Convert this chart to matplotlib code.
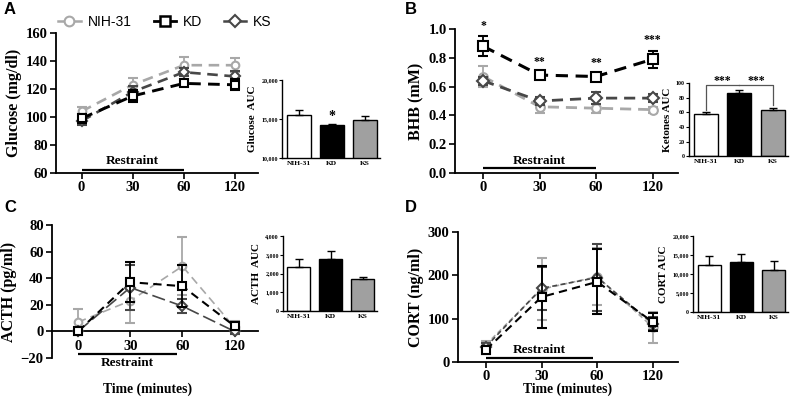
import matplotlib
matplotlib.use("Agg")
import matplotlib.pyplot as plt
from matplotlib.lines import Line2D

# ---------------- data ----------------
time_labels = ["0", "30", "60", "120"]
groups = ["NIH-31", "KD", "KS"]

glucose_nih = [104, 123, 137, 137]
glucose_nih_err = [3, 5, 6, 5]
glucose_kd = [99, 115, 124, 123]
glucose_kd_err = [3, 4, 2, 4]
glucose_ks = [97, 118, 132, 129]
glucose_ks_err = [3, 4, 3, 4]

bhb_nih = [0.67, 0.46, 0.45, 0.44]
bhb_nih_err = [0.07, 0.04, 0.03, 0.02]
bhb_kd = [0.88, 0.68, 0.67, 0.79]
bhb_kd_err = [0.07, 0.02, 0.02, 0.06]
bhb_ks = [0.64, 0.50, 0.52, 0.52]
bhb_ks_err = [0.03, 0.03, 0.04, 0.03]
bhb_stars = ["*", "**", "**", "***"]

acth_nih = [7, 23, 49, 3]
acth_nih_err = [10, 17, 22, 5]
acth_kd = [0, 37, 34, 4]
acth_kd_err = [1, 15, 16, 3]
acth_ks = [0, 33, 19, 0]
acth_ks_err = [1, 17, 5, 2]

cort_nih = [40, 168, 197, 80]
cort_nih_err = [8, 72, 66, 35]
cort_kd = [28, 150, 185, 92]
cort_kd_err = [10, 72, 75, 20]
cort_ks = [35, 170, 195, 88]
cort_ks_err = [8, 50, 78, 15]

glucose_auc = [15500, 14200, 14900]
glucose_auc_err = [600, 200, 500]
ketones_auc = [57.5, 87, 63.5]
ketones_auc_err = [2.5, 3, 2]
acth_auc = [2330, 2760, 1720]
acth_auc_err = [460, 420, 70]
cort_auc = [12400, 13100, 11100]
cort_auc_err = [2400, 2200, 2200]

# ---------------- style ----------------
SERIF = "Liberation Serif"
SANS = "Liberation Sans"
C_NIH = "#a8a8a8"
C_KD = "#000000"
C_KS = "#474747"
BAR_COLORS = ["white", "black", "#a0a0a0"]
TICK_FS = 10.5
YLAB_FS = 11.5

fig = plt.figure(figsize=(7.95, 3.99), dpi=100)

def W(x):
    return x / 795.0

def H(y):
    return y / 399.0

def style_ticks(ax, size):
    for lab in ax.get_xticklabels() + ax.get_yticklabels():
        lab.set_fontfamily(SERIF)
        lab.set_fontweight("bold")
        lab.set_fontsize(size)

def main_axes(rect):
    ax = fig.add_axes(rect)
    for s in ["top", "right"]:
        ax.spines[s].set_visible(False)
    for s in ["left", "bottom"]:
        ax.spines[s].set_linewidth(1.3)
    ax.tick_params(direction="out", width=1.2, length=4, pad=2)
    ax.set_xlim(-0.5, 3.45)
    ax.set_xticks(range(len(time_labels)))
    ax.set_xticklabels(time_labels)
    return ax

def plot_series(ax, vals, errs, color, marker, ms, lw, dash, zorder):
    x = list(range(len(vals)))
    ax.errorbar(x, vals, yerr=errs, color=color, ecolor=color, elinewidth=1.3,
                capsize=3.5, capthick=1.3, marker=marker, markersize=ms,
                markerfacecolor="white", markeredgecolor=color, markeredgewidth=1.5,
                linestyle=(0, dash), linewidth=lw, zorder=zorder, clip_on=False)

def inset_axes(rect, vals, errs, ylabel, ylim, yticks, yticklabels):
    ax = fig.add_axes(rect)
    for s in ["top", "right"]:
        ax.spines[s].set_visible(False)
    for s in ["left", "bottom"]:
        ax.spines[s].set_linewidth(1.0)
    x = list(range(len(vals)))
    ax.bar(x, vals, width=0.72, color=BAR_COLORS, edgecolor="black", linewidth=1.0, zorder=2)
    ax.errorbar(x, vals, yerr=[[0] * len(errs), errs], fmt="none", ecolor="black",
                elinewidth=1.0, capsize=3, capthick=1.0, zorder=3)
    ax.set_xlim(-0.5, 2.45)
    ax.set_ylim(*ylim)
    ax.set_yticks(yticks)
    ax.set_yticklabels(yticklabels)
    ax.set_xticks(x)
    ax.set_xticklabels(groups)
    ax.tick_params(axis="y", direction="out", width=0.8, length=2, pad=1)
    ax.tick_params(axis="x", length=0, pad=2)
    style_ticks(ax, 4.3)
    for lab in ax.get_xticklabels():
        lab.set_fontsize(5.4)
    ax.set_ylabel(ylabel, fontfamily=SERIF, fontweight="bold", fontsize=8, labelpad=3)
    return ax

def restraint(ax, y_line, y_text, x_end, va):
    ax.plot([0, x_end], [y_line, y_line], color="black", lw=1.6, clip_on=False,
            solid_capstyle="butt")
    ax.text(x_end / 2.0, y_text, "Restraint", ha="center", va=va,
            fontfamily=SERIF, fontweight="bold", fontsize=9.5)

def ylab(ax, text):
    ax.set_ylabel(text, fontfamily=SERIF, fontweight="bold", fontsize=YLAB_FS, labelpad=3)

# ---------------- Panel A ----------------
axA = main_axes([W(56), 1 - H(173), W(202), H(140)])
axA.set_ylim(60, 160)
axA.set_yticks(range(60, 161, 20))
style_ticks(axA, TICK_FS)
plot_series(axA, glucose_nih, glucose_nih_err, C_NIH, "o", 5.5, 1.9, (4, 2.5), 3)
plot_series(axA, glucose_ks, glucose_ks_err, C_KS, "D", 5.0, 1.9, (4, 2.5), 4)
plot_series(axA, glucose_kd, glucose_kd_err, C_KD, "s", 5.8, 2.1, (4, 2.5), 5)
ylab(axA, "Glucose (mg/dl)")
restraint(axA, 62, 64, 2, "bottom")

handles = [
    Line2D([], [], color=C_NIH, marker="o", markersize=7, markerfacecolor="white",
           markeredgewidth=1.5, lw=1.8),
    Line2D([], [], color=C_KD, marker="s", markersize=7, markerfacecolor="white",
           markeredgewidth=1.8, lw=2.0),
    Line2D([], [], color=C_KS, marker="D", markersize=6, markerfacecolor="white",
           markeredgewidth=1.5, lw=1.8),
]
axA.legend(handles, groups, ncol=3, loc="lower center", bbox_to_anchor=(0.54, 0.99),
           frameon=False, handlelength=1.6, handletextpad=0.5, columnspacing=1.6,
           prop={"family": SANS, "size": 10}, borderaxespad=0)

insA = inset_axes([W(282), 1 - H(158), W(98), H(78)], glucose_auc, glucose_auc_err,
                  "Glucose  AUC", (10000, 20000), [10000, 15000, 20000],
                  ["10,000", "15,000", "20,000"])
insA.text(1, glucose_auc[1] + glucose_auc_err[1] + 50, "*", ha="center", va="bottom",
          fontfamily=SERIF, fontweight="bold", fontsize=10)

# ---------------- Panel B ----------------
axB = main_axes([W(455), 1 - H(173), W(223), H(144)])
axB.set_ylim(0, 1.0)
axB.set_yticks([0.0, 0.2, 0.4, 0.6, 0.8, 1.0])
axB.set_yticklabels(["0.0", "0.2", "0.4", "0.6", "0.8", "1.0"])
style_ticks(axB, TICK_FS)
plot_series(axB, bhb_nih, bhb_nih_err, C_NIH, "o", 6.3, 2.0, (4, 2.5), 3)
plot_series(axB, bhb_ks, bhb_ks_err, C_KS, "D", 6.0, 2.0, (4, 2.5), 4)
plot_series(axB, bhb_kd, bhb_kd_err, C_KD, "s", 7, 2.2, (4, 2.5), 5)
for i, s in enumerate(bhb_stars):
    axB.text(i, bhb_kd[i] + bhb_kd_err[i] + 0.03, s, ha="center", va="bottom",
             fontfamily=SERIF, fontweight="bold", fontsize=8.5, clip_on=False)
ylab(axB, "BHB (mM)")
restraint(axB, 0.035, 0.045, 2, "bottom")

insB = inset_axes([W(689), 1 - H(156.5), W(99), H(73.5)], ketones_auc, ketones_auc_err,
                  "Ketones AUC", (0, 100), [0, 20, 40, 60, 80, 100],
                  ["0", "20", "40", "60", "80", "100"])
yb = 97
insB.plot([0, 0, 1], [ketones_auc[0] + 6, yb, yb], color="#555555", lw=0.9, clip_on=False)
insB.plot([1, 2, 2], [yb, yb, ketones_auc[2] + 6], color="#555555", lw=0.9, clip_on=False)
insB.text(0.5, yb - 2, "***", ha="center", va="bottom", fontfamily=SERIF,
          fontweight="bold", fontsize=8.5, clip_on=False)
insB.text(1.5, yb - 2, "***", ha="center", va="bottom", fontfamily=SERIF,
          fontweight="bold", fontsize=8.5, clip_on=False)

# ---------------- Panel C ----------------
axC = main_axes([W(52), 1 - H(358), W(206), H(133)])
axC.set_ylim(-20, 80)
axC.set_yticks(range(-20, 81, 20))
axC.spines["bottom"].set_position(("data", 0))
style_ticks(axC, TICK_FS)
plot_series(axC, acth_nih, acth_nih_err, C_NIH, "o", 5.5, 1.2, (5, 3), 3)
plot_series(axC, acth_ks, acth_ks_err, C_KS, "D", 5, 1.2, (8, 3), 4)
plot_series(axC, acth_kd, acth_kd_err, C_KD, "s", 6.3, 1.5, (4, 2.5), 5)
ylab(axC, "ACTH (pg/ml)")
axC.yaxis.set_label_coords(-0.17, 0.5)
restraint(axC, -17, -19.5, 1.9, "top")

insC = inset_axes([W(283), 1 - H(311), W(94), H(75)], acth_auc, acth_auc_err,
                  "ACTH  AUC", (0, 4000), [0, 1000, 2000, 3000, 4000],
                  ["0", "1,000", "2,000", "3,000", "4,000"])

# ---------------- Panel D ----------------
axD = main_axes([W(458), 1 - H(362), W(220), H(130)])
axD.set_ylim(0, 300)
axD.set_yticks([0, 100, 200, 300])
style_ticks(axD, TICK_FS)
plot_series(axD, cort_nih, cort_nih_err, C_NIH, "o", 6, 1.2, (3, 2), 3)
plot_series(axD, cort_ks, cort_ks_err, C_KS, "D", 5.5, 1.2, (3, 2), 4)
plot_series(axD, cort_kd, cort_kd_err, C_KD, "s", 6.3, 1.5, (4, 2.5), 5)
ylab(axD, "CORT (ng/ml)")
restraint(axD, 9, 14, 1.92, "bottom")

insD = inset_axes([W(693), 1 - H(312), W(95), H(76)], cort_auc, cort_auc_err,
                  "CORT AUC", (0, 20000), [0, 5000, 10000, 15000, 20000],
                  ["0", "5,000", "10,000", "15,000", "20,000"])

# ---------------- shared text ----------------
fig.text(W(148), 1 - H(389), "Time (minutes)", ha="center", va="center",
         fontfamily=SERIF, fontweight="bold", fontsize=9.8)
fig.text(W(568), 1 - H(389), "Time (minutes)", ha="center", va="center",
         fontfamily=SERIF, fontweight="bold", fontsize=9.8)

for lbl, (x, y) in zip("ABCD", [(4, 10), (405, 10), (4, 208), (405, 208)]):
    fig.text(W(x), 1 - H(y), lbl, ha="left", va="center", fontfamily=SANS,
             fontweight="bold", fontsize=12)

fig.savefig("out.png", dpi=100)
